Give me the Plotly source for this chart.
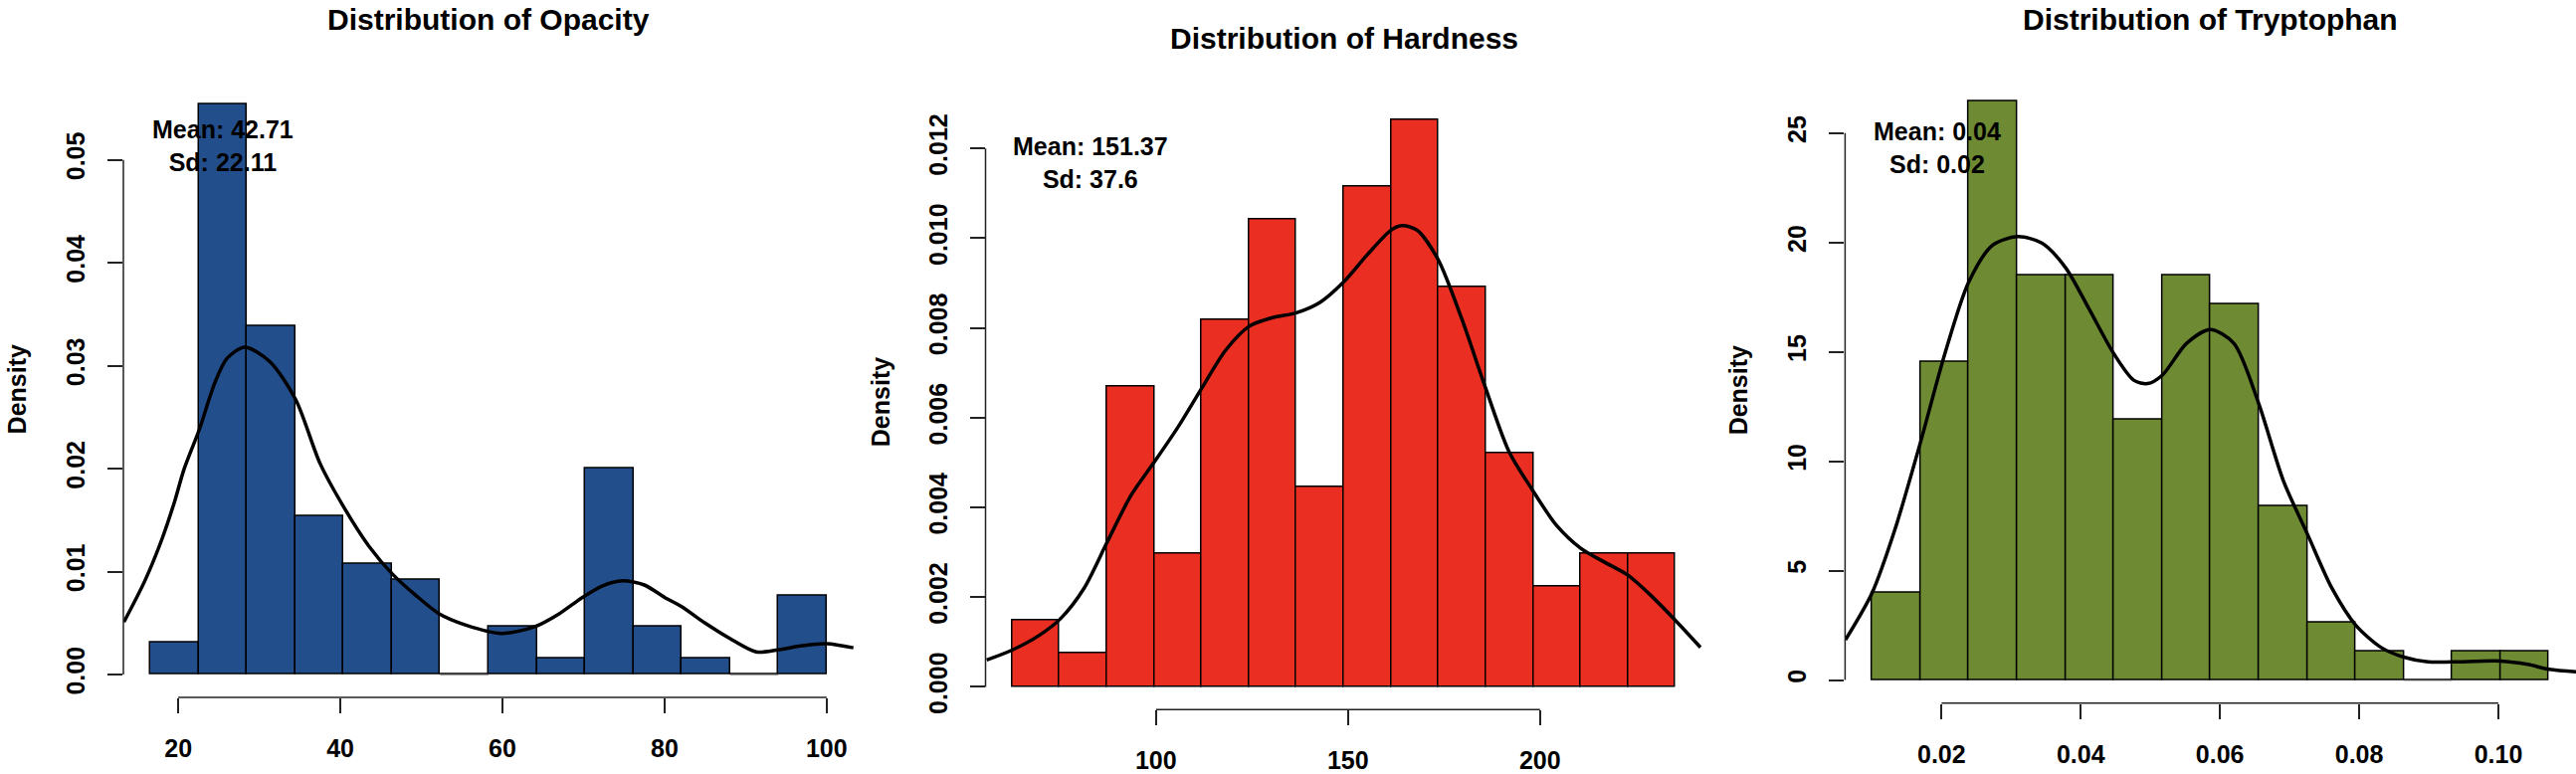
import plotly.graph_objects as go

# ---------------- data ----------------
titles = ["Distribution of Opacity", "Distribution of Hardness", "Distribution of Tryptophan"]
stat_labels = ["Mean: 42.71<br>Sd: 22.11", "Mean: 151.37<br>Sd: 37.6", "Mean: 0.04<br>Sd: 0.02"]
bar_colors = ["#234E8C", "#EA2E22", "#6E8A33"]

# Opacity
opacity_edges = [16.57, 22.53, 28.49, 34.45, 40.41, 46.37, 52.33, 58.28, 64.24, 70.20,
                 76.16, 82.12, 88.08, 94.04, 100.0]
opacity_density = [0.00308, 0.0554, 0.03386, 0.01539, 0.01077, 0.00924, 0.0, 0.00462,
                   0.00154, 0.02001, 0.00462, 0.00154, 0.0, 0.0077]
opacity_kde_x = [13.3, 15.88, 17.92, 19.55, 20.7, 22.6, 24.5, 26.0, 28.2, 31.3, 34.5, 37.5,
                 40.4, 43.5, 46.5, 49.3, 52.2, 55.5, 59.9, 64.0, 67.0, 69.7, 72.3, 74.8,
                 77.5, 80.0, 82.1, 85.0, 88.06, 91.3, 94.0, 97.0, 100.0, 103.3]
opacity_kde_y = [0.0051, 0.0091, 0.0130, 0.0168, 0.0199, 0.0238, 0.0283, 0.0307, 0.0318,
                 0.0304, 0.0267, 0.0205, 0.0163, 0.0125, 0.0097, 0.0077, 0.0059, 0.0048,
                 0.0040, 0.00465, 0.0059, 0.0074, 0.0086, 0.0091, 0.0087, 0.0075, 0.0066,
                 0.0050, 0.0035, 0.0022, 0.0024, 0.0028, 0.0030, 0.0026]

# Hardness
hardness_edges = [62.52, 74.86, 87.20, 99.54, 111.88, 124.22, 136.56, 148.90, 161.24,
                  173.58, 185.92, 198.26, 210.60, 222.94, 235.28]
hardness_density = [0.00149, 0.00074, 0.00669, 0.00297, 0.00818, 0.01041, 0.00446,
                    0.01115, 0.01264, 0.00892, 0.00520, 0.00223, 0.00297, 0.00297]
hardness_kde_x = [55.9, 62.5, 69.6, 75.0, 81.2, 87.3, 93.5, 99.7, 105.8, 112.0, 118.1,
                  124.3, 130.4, 136.6, 142.7, 148.9, 155.0, 161.2, 164.1, 168.0, 173.5,
                  179.6, 185.8, 191.9, 198.1, 204.2, 210.6, 216.6, 222.9, 229.1, 235.3, 241.8]
hardness_kde_y = [0.00060, 0.00082, 0.00115, 0.00151, 0.00219, 0.00323, 0.00427, 0.00503,
                  0.00580, 0.00667, 0.00750, 0.00804, 0.00823, 0.00834, 0.00857, 0.00903,
                  0.00963, 0.01018, 0.01028, 0.01018, 0.00952, 0.00821, 0.00667, 0.00525,
                  0.00438, 0.00361, 0.00309, 0.00279, 0.00249, 0.00202, 0.00148, 0.00088]

# Tryptophan
trypt_edges = [0.01003, 0.01698, 0.02392, 0.03087, 0.03781, 0.04476, 0.05170, 0.05865,
               0.06559, 0.07254, 0.07948, 0.08643, 0.09337, 0.10032, 0.10726]
trypt_density = [3.97, 14.54, 26.44, 18.50, 18.50, 11.90, 18.50, 17.18, 7.93, 2.64,
                 1.32, 0.0, 1.32, 1.32]
trypt_kde_x = [0.0062, 0.0100, 0.0133, 0.0170, 0.0205, 0.0239, 0.0273, 0.0309, 0.0344,
               0.0378, 0.0412, 0.0447, 0.0476, 0.0496, 0.0517, 0.0552, 0.0586, 0.0620,
               0.0655, 0.0691, 0.0726, 0.0761, 0.0795, 0.0831, 0.0864, 0.0899, 0.0934,
               0.1003, 0.1042, 0.1073, 0.1112]
trypt_kde_y = [1.84, 3.97, 6.88, 10.9, 14.94, 18.19, 19.87, 20.27, 19.98, 18.86, 16.96,
               14.94, 13.71, 13.55, 13.93, 15.39, 16.02, 15.39, 12.7, 9.12, 6.65, 4.19,
               2.51, 1.50, 1.05, 0.83, 0.83, 0.87, 0.72, 0.49, 0.38]

x_ticks = [[20, 40, 60, 80, 100], [100, 150, 200], [0.02, 0.04, 0.06, 0.08, 0.10]]
x_tickfmt = ["d", "d", ".2f"]
y_ticks = [[0.0, 0.01, 0.02, 0.03, 0.04, 0.05],
           [0.0, 0.002, 0.004, 0.006, 0.008, 0.010, 0.012],
           [0, 5, 10, 15, 20, 25]]
y_tickfmt = [".2f", ".3f", "d"]
stat_pos = [(25.5, 0.0514), (82.9, 0.01168), (0.0194, 24.35)]

# ---------------- layout geometry (pixels of a 2589x778 canvas) ----------------
W, H = 2589, 778
plot_px = [(124, 858, 83, 711), (990.5, 1710.6, 99, 723.5), (1854.4, 2589, 80, 717)]
title_y_px = [20, 39, 20]
ylab_px = [(17, 397), (885, 410), (1747, 398)]

FONT = "Liberation Sans, Arial, sans-serif"

panels = [
    (opacity_edges, opacity_density, opacity_kde_x, opacity_kde_y),
    (hardness_edges, hardness_density, hardness_kde_x, hardness_kde_y),
    (trypt_edges, trypt_density, trypt_kde_x, trypt_kde_y),
]

fig = go.Figure()
shapes = []
annotations = []
layout_axes = {}

for i, (edges, dens, kx, ky) in enumerate(panels):
    n = i + 1
    xa = "x" if n == 1 else f"x{n}"
    ya = "y" if n == 1 else f"y{n}"
    centers = [(a + b) / 2 for a, b in zip(edges[:-1], edges[1:])]
    widths = [b - a for a, b in zip(edges[:-1], edges[1:])]
    fig.add_trace(go.Bar(x=centers, y=dens, width=widths, xaxis=xa, yaxis=ya,
                         marker=dict(color=bar_colors[i], line=dict(color="black", width=1.5)),
                         showlegend=False, hoverinfo="skip"))
    # empty bins are drawn by R as a flat border line on the baseline
    for a, b, d in zip(edges[:-1], edges[1:], dens):
        if d == 0:
            fig.add_trace(go.Scatter(x=[a, b], y=[0, 0], mode="lines", xaxis=xa, yaxis=ya,
                                     line=dict(color="#444", width=1.2),
                                     showlegend=False, hoverinfo="skip"))
    fig.add_trace(go.Scatter(x=kx, y=ky, mode="lines", xaxis=xa, yaxis=ya,
                             line=dict(color="black", width=3.5, shape="spline", smoothing=0.8),
                             showlegend=False, hoverinfo="skip"))

    lo, hi = edges[0], edges[-1]
    pad = 0.04 * (hi - lo)
    ymax = max(dens)
    l, r, t, b = plot_px[i]
    xd = [l / W, min(r / W, 1.0)]
    yd = [(H - b) / H, (H - t) / H]
    tickfont = dict(family=FONT, size=25, color="black", weight="bold")
    layout_axes["xaxis" if n == 1 else f"xaxis{n}"] = dict(
        domain=xd, range=[lo - pad, hi + pad], anchor=ya, showgrid=False, zeroline=False,
        showline=False, ticks="outside", ticklen=15, tickwidth=1.5, tickcolor="#222",
        tickvals=x_ticks[i], tickformat=x_tickfmt[i], tickfont=tickfont,
        ticklabelstandoff=14, fixedrange=True)
    layout_axes["yaxis" if n == 1 else f"yaxis{n}"] = dict(
        domain=yd, range=[-0.04 * ymax, 1.04 * ymax], anchor=xa, showgrid=False,
        zeroline=False, showline=False, ticks="outside", ticklen=15, tickwidth=1.5,
        tickcolor="#222", tickvals=y_ticks[i], tickformat=y_tickfmt[i], tickangle=-90,
        tickfont=tickfont, ticklabelstandoff=13, fixedrange=True)

    # R-style axis lines spanning first to last tick
    shapes.append(dict(type="line", xref=xa, yref=f"{ya} domain", x0=x_ticks[i][0],
                       x1=x_ticks[i][-1], y0=0, y1=0, line=dict(color="#222", width=1.5)))
    shapes.append(dict(type="line", xref=f"{xa} domain", yref=ya, x0=0, x1=0,
                       y0=y_ticks[i][0], y1=y_ticks[i][-1], line=dict(color="#222", width=1.5)))

    annotations.append(dict(text="<b>" + titles[i] + "</b>", xref="paper", yref="paper",
                            x=(l + r) / 2 / W, y=1 - title_y_px[i] / H,
                            xanchor="center", yanchor="middle",
                            showarrow=False, font=dict(family=FONT, size=30, color="black")))
    annotations.append(dict(text="<b>Density</b>", xref="paper", yref="paper",
                            x=ylab_px[i][0] / W, y=1 - ylab_px[i][1] / H, textangle=-90,
                            xanchor="center", yanchor="middle", showarrow=False,
                            font=dict(family=FONT, size=25, color="black")))
    annotations.append(dict(text="<b>" + stat_labels[i] + "</b>", xref=xa, yref=ya,
                            x=stat_pos[i][0], y=stat_pos[i][1], xanchor="center",
                            yanchor="middle", align="center", showarrow=False,
                            font=dict(family=FONT, size=25, color="black")))

fig.update_layout(width=W, height=H, margin=dict(l=0, r=0, t=0, b=0),
                  paper_bgcolor="white", plot_bgcolor="white", bargap=0,
                  shapes=shapes, annotations=annotations, **layout_axes)

fig.write_html("out.html", config={"displayModeBar": False},
               post_script="document.body.style.margin='0';")
